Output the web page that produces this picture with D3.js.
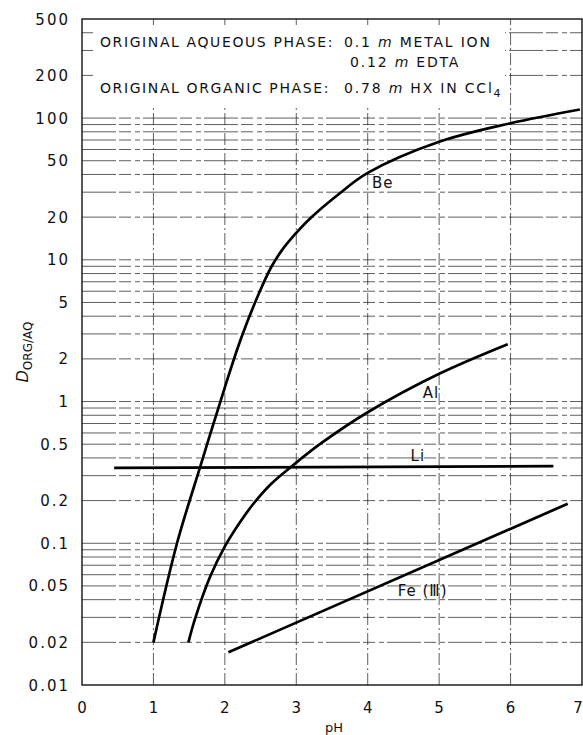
<!DOCTYPE html>
<html>
<head>
<meta charset="utf-8">
<script src="https://cdn.jsdelivr.net/npm/d3@7"></script>
<style>
  body { margin: 0; background: #fff; }
  svg { display: block; font-family: "DejaVu Sans", sans-serif; }
</style>
</head>
<body>
<svg id="chart" width="583" height="735"></svg>
<script>
// axis ticks
var pHTicks = [0, 1, 2, 3, 4, 5, 6, 7];
var dTicks = [500, 200, 100, 50, 20, 10, 5, 2, 1, 0.5, 0.2, 0.1, 0.05, 0.02, 0.01];
var dTickLabels = ["500", "200", "100", "50", "20", "10", "5", "2", "1", "0.5", "0.2", "0.1", "0.05", "0.02", "0.01"];

// curves
var bePH = [1.0, 1.33, 1.65, 2.0, 2.23, 2.49, 2.65, 2.8, 2.98, 3.19, 3.61, 4.0, 5.0, 6.0, 6.97];
var beD  = [0.02, 0.1, 0.34, 1.26, 2.82, 6.0, 8.9, 11.7, 15.1, 19.5, 29.5, 41, 68, 92, 115];
var alPH = [1.49, 1.58, 1.79, 2.0, 2.2, 2.4, 2.65, 2.93, 3.33, 4.0, 5.0, 5.96];
var alD  = [0.02, 0.029, 0.0575, 0.095, 0.138, 0.19, 0.263, 0.347, 0.5, 0.84, 1.57, 2.54];
var liPH = [0.45, 6.6];
var liD  = [0.34, 0.35];
var fePH = [2.05, 6.8];
var feD  = [0.017, 0.19];

var svg = d3.select("#chart");

var x = d3.scaleLinear().domain([0, 7]).range([82, 582]);
var y = d3.scaleLog().domain([0.01, 500]).range([685, 19]);

// grid
var grid = svg.append("g");
grid.selectAll("line.h")
    .data(y.ticks().filter(function(v) { return v > 0.0100001 && v < 499; }))
    .enter().append("line")
    .attr("class", "h")
    .attr("x1", x(0)).attr("x2", x(7))
    .attr("y1", function(d) { return y(d); })
    .attr("y2", function(d) { return y(d); })
    .attr("stroke", "#111")
    .attr("stroke-width", 0.9)
    .attr("stroke-opacity", 0.75)
    .attr("stroke-dasharray", "34,3,12,4,5,3");

grid.selectAll("line.v")
    .data([1, 2, 3, 4, 5, 6])
    .enter().append("line")
    .attr("class", "v")
    .attr("x1", function(d) { return x(d); })
    .attr("x2", function(d) { return x(d); })
    .attr("y1", y(0.01)).attr("y2", y(500))
    .attr("stroke", "#111")
    .attr("stroke-width", 0.9)
    .attr("stroke-opacity", 0.75)
    .attr("stroke-dasharray", "12,3,2,3");

// blank area behind the notes
svg.append("rect")
    .attr("x", 93).attr("y", 26)
    .attr("width", 412).attr("height", 80)
    .attr("fill", "#fff");

// frame
svg.append("rect")
    .attr("x", x(0)).attr("y", y(500))
    .attr("width", x(7) - x(0)).attr("height", y(0.01) - y(500))
    .attr("fill", "none")
    .attr("stroke", "#111")
    .attr("stroke-width", 1.4);

// tick labels
svg.selectAll("text.yt")
    .data(dTicks)
    .enter().append("text")
    .attr("class", "yt")
    .attr("x", 70)
    .attr("y", function(d) { return y(d) + 5.5; })
    .attr("text-anchor", "end")
    .attr("font-size", 15)
    .attr("letter-spacing", 2)
    .attr("fill", "#111")
    .text(function(d, i) { return dTickLabels[i]; });

svg.selectAll("text.xt")
    .data(pHTicks)
    .enter().append("text")
    .attr("class", "xt")
    .attr("x", function(d) { return d == 7 ? x(d) - 4 : x(d); })
    .attr("y", 713)
    .attr("text-anchor", "middle")
    .attr("font-size", 15)
    .attr("fill", "#111")
    .text(function(d) { return d; });

svg.append("text")
    .attr("x", 334).attr("y", 732)
    .attr("text-anchor", "middle")
    .attr("font-size", 13)
    .attr("fill", "#111")
    .text("pH");

var yt = svg.append("text")
    .attr("transform", "translate(28,352) rotate(-90)")
    .attr("text-anchor", "middle")
    .attr("fill", "#111");
yt.append("tspan").attr("font-size", 16).attr("font-style", "italic").text("D");
yt.append("tspan").attr("font-size", 12).attr("dy", 4).text("ORG/AQ");

// curves
var line = d3.line()
    .x(function(d) { return x(d[0]); })
    .y(function(d) { return y(d[1]); })
    .curve(d3.curveCatmullRom.alpha(0.5));

function pairs(a, b) { return a.map(function(v, i) { return [v, b[i]]; }); }

[[bePH, beD], [alPH, alD], [liPH, liD], [fePH, feD]].forEach(function(s) {
    svg.append("path")
        .attr("d", line(pairs(s[0], s[1])))
        .attr("fill", "none")
        .attr("stroke", "#000")
        .attr("stroke-width", 2.7);
});

// curve labels
var labels = [
    {t: "Be", px: 4.06, v: 32},
    {t: "Al", px: 4.77, v: 1.06},
    {t: "Li", px: 4.6, v: 0.38},
    {t: "Fe (\u2162)", px: 4.42, v: 0.0425}
];
svg.selectAll("text.lab")
    .data(labels)
    .enter().append("text")
    .attr("class", "lab")
    .attr("x", function(d) { return x(d.px); })
    .attr("y", function(d) { return y(d.v); })
    .attr("font-size", 15)
    .attr("letter-spacing", 1)
    .attr("fill", "#111")
    .text(function(d) { return d.t; });

// notes
function note(xp, yp, ls, parts) {
    var t = svg.append("text")
        .attr("x", xp).attr("y", yp)
        .attr("font-size", 14)
        .attr("letter-spacing", ls)
        .attr("fill", "#111");
    parts.forEach(function(p) {
        var s = t.append("tspan").text(p[0]);
        if (p[1] == "i") s.attr("font-style", "italic");
        if (p[1] == "sub") s.attr("font-size", 11).attr("dy", 4);
    });
}
note(100, 47, 1.6, [["ORIGINAL AQUEOUS PHASE:"]]);
note(344, 47, 1.8, [["0.1 "], ["m", "i"], [" METAL ION"]]);
note(350, 67, 1.8, [["0.12 "], ["m", "i"], [" EDTA"]]);
note(100, 93, 1.6, [["ORIGINAL ORGANIC PHASE:"]]);
note(344, 93, 1.8, [["0.78 "], ["m", "i"], [" HX IN CCl"], ["4", "sub"]]);
</script>
</body>
</html>
